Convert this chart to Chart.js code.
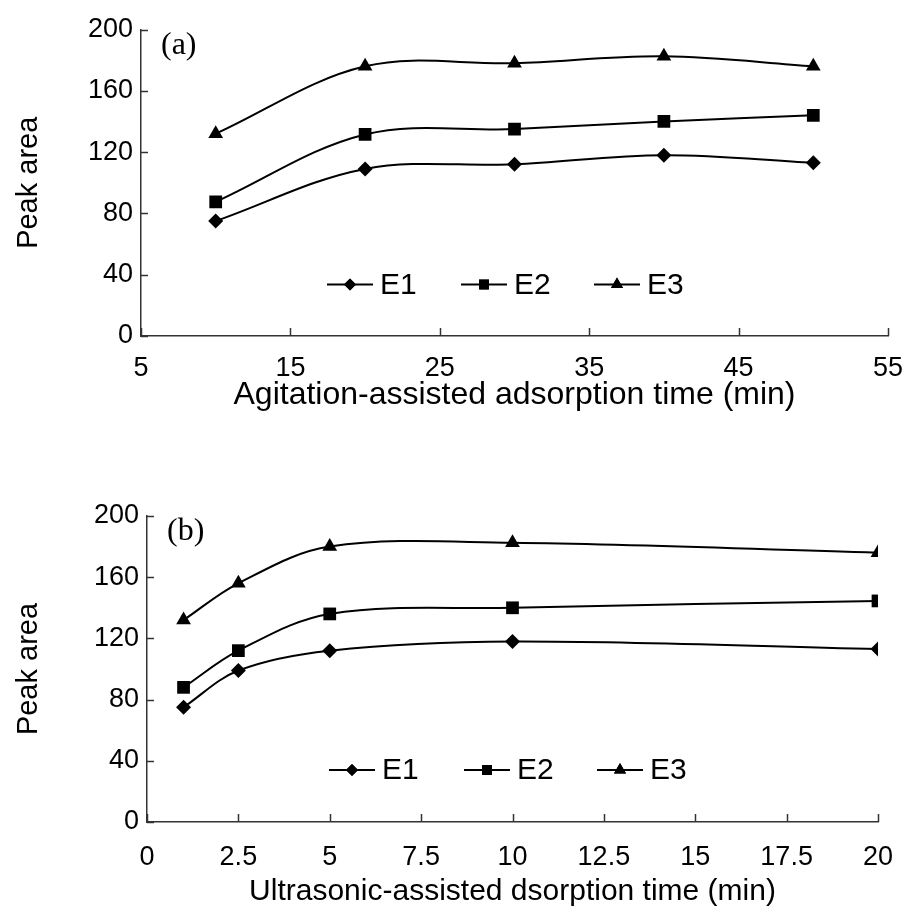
<!DOCTYPE html>
<html>
<head>
<meta charset="utf-8">
<script src="https://cdn.jsdelivr.net/npm/chart.js@4.4.1/dist/chart.umd.min.js"></script>
<style>
  html, body { margin: 0; padding: 0; background: #fff; }
  #wrapA { position: absolute; left: 0; top: 0; width: 907px; height: 454px; }
  #wrapB { position: absolute; left: 0; top: 454px; width: 907px; height: 460px; }
</style>
</head>
<body>
<div id="wrapA"><canvas id="chartA"></canvas></div>
<div id="wrapB"><canvas id="chartB"></canvas></div>
<script>
// ---------- data ----------
const seriesNames = ['E1', 'E2', 'E3'];
const markerStyles = ['rectRot', 'rect', 'triangle'];

const agitationTime = [10, 20, 30, 40, 50];
const agitationE1 = [75, 109, 112, 118, 113];
const agitationE2 = [87.5, 131.5, 135, 140, 144];
const agitationE3 = [132, 176, 178, 182.5, 176];

const ultrasonicTime = [1, 2.5, 5, 10, 20];
const ultrasonicE1 = [75, 99, 112, 118, 113];
const ultrasonicE2 = [88, 112, 136, 140, 144.5];
const ultrasonicE3 = [132, 156, 180, 182.5, 176];

const yTicks = [0, 40, 80, 120, 160, 200];
const agitationTicks = [5, 15, 25, 35, 45, 55];
const ultrasonicTicks = [0, 2.5, 5, 7.5, 10, 12.5, 15, 17.5, 20];

// ---------- helpers ----------
const SANS = "'Liberation Sans', Arial, sans-serif";
const SERIF = "'Liberation Serif', 'Times New Roman', serif";
const markerRadius = [7.5, 9, 8.5];
const legendRadius = [6, 7, 7];

function toPoints(xs, ys) { return xs.map((x, i) => ({ x: x, y: ys[i] })); }

function makeDatasets(xs, seriesList) {
  return seriesList.map((ys, i) => ({
    label: seriesNames[i],
    data: toPoints(xs, ys),
    borderColor: '#000',
    backgroundColor: '#000',
    borderWidth: 2,
    pointStyle: markerStyles[i],
    pointRadius: markerRadius[i],
    pointHoverRadius: markerRadius[i],
    pointBackgroundColor: '#000',
    pointBorderColor: '#000',
    pointBorderWidth: 0,
    tension: 0.35,
    fill: false
  }));
}

// inward tick marks + panel letter + in-plot legend
const decorPlugin = {
  id: 'decor',
  afterDraw(chart, args, opts) {
    const ctx = chart.ctx;
    const area = chart.chartArea;
    ctx.save();
    ctx.strokeStyle = '#333';
    ctx.lineWidth = 1.5;
    const xs = chart.scales.x, ys = chart.scales.y;
    xs.ticks.forEach((t, i) => {
      const px = Math.round(xs.getPixelForTick(i)) + 0.5;
      ctx.beginPath(); ctx.moveTo(px, area.bottom); ctx.lineTo(px, area.bottom - 8); ctx.stroke();
    });
    ys.ticks.forEach((t, i) => {
      const py = Math.round(ys.getPixelForTick(i)) + 0.5;
      ctx.beginPath(); ctx.moveTo(area.left, py); ctx.lineTo(area.left + 7, py); ctx.stroke();
    });
    // panel letter
    ctx.fillStyle = '#000';
    ctx.font = '32px ' + SERIF;
    ctx.textBaseline = 'middle';
    ctx.textAlign = 'left';
    ctx.fillText(opts.letter, area.left + 20, area.top + 16);
    // legend
    const ly = area.top + opts.legendDY;
    chart.data.datasets.forEach((ds, i) => {
      const cx = area.left + opts.legendDX[i];
      ctx.strokeStyle = '#000';
      ctx.lineWidth = 2;
      ctx.beginPath(); ctx.moveTo(cx - 23, ly); ctx.lineTo(cx + 23, ly); ctx.stroke();
      ctx.fillStyle = '#000';
      Chart.helpers.drawPoint(ctx, { pointStyle: ds.pointStyle, radius: legendRadius[i], rotation: 0, borderWidth: 0 }, cx, ly);
      ctx.fill();
      ctx.font = '30px ' + SANS;
      ctx.textBaseline = 'middle';
      ctx.textAlign = 'left';
      ctx.fillText(ds.label, cx + 30, ly + 1);
    });
    ctx.restore();
  }
};

function makeChart(id, xs, seriesList, cfg) {
  return new Chart(document.getElementById(id), {
    type: 'line',
    data: { datasets: makeDatasets(xs, seriesList) },
    plugins: [decorPlugin],
    options: {
      responsive: true,
      maintainAspectRatio: false,
      animation: false,
      events: [],
      layout: { padding: cfg.padding },
      plugins: {
        legend: { display: false },
        tooltip: { enabled: false },
        decor: { letter: cfg.letter, legendDX: cfg.legendDX, legendDY: cfg.legendDY }
      },
      scales: {
        x: {
          type: 'linear',
          min: cfg.xTicks[0],
          max: cfg.xTicks[cfg.xTicks.length - 1],
          afterBuildTicks: (s) => { s.ticks = cfg.xTicks.map(v => ({ value: v })); },
          afterFit: (s) => { s.height = cfg.xHeight; },
          grid: { display: true, drawOnChartArea: false, drawTicks: true, tickLength: cfg.xTickLen, tickColor: 'rgba(0,0,0,0)' },
          border: { display: true, color: '#333', width: 1.5 },
          ticks: {
            autoSkip: false, maxRotation: 0, padding: 2, color: '#000',
            font: { family: SANS, size: 27 },
            callback: (v) => String(v)
          },
          title: {
            display: true, text: cfg.xTitle, color: '#000',
            font: { family: SANS, size: cfg.xTitleSize },
            padding: { top: 0, bottom: cfg.xTitlePad }
          }
        },
        y: {
          type: 'linear',
          min: 0, max: 200,
          afterBuildTicks: (s) => { s.ticks = yTicks.map(v => ({ value: v })); },
          afterFit: (s) => { s.width = cfg.yWidth; },
          grid: { display: true, drawOnChartArea: false, drawTicks: false },
          border: { display: true, color: '#333', width: 1.5 },
          ticks: { padding: 8, color: '#000', font: { family: SANS, size: 27 } },
          title: {
            display: true, text: 'Peak area', color: '#000',
            font: { family: SANS, size: 29 },
            padding: { top: 12, bottom: 0 }
          }
        }
      }
    }
  });
}

makeChart('chartA', agitationTime, [agitationE1, agitationE2, agitationE3], {
  letter: '(a)',
  xTicks: agitationTicks,
  xTitle: 'Agitation-assisted adsorption time (min)',
  xTitleSize: 32,
  xTitlePad: 40,
  xTickLen: 14,
  xHeight: 118,
  yWidth: 141,
  padding: { left: 0, right: 19, top: 29.5, bottom: 0 },
  legendDX: [209, 343, 476],
  legendDY: 255
});

makeChart('chartB', ultrasonicTime, [ultrasonicE1, ultrasonicE2, ultrasonicE3], {
  letter: '(b)',
  xTicks: ultrasonicTicks,
  xTitle: 'Ultrasonic-assisted dsorption time (min)',
  xTitleSize: 30,
  xTitlePad: 4,
  xTickLen: 17,
  xHeight: 92,
  yWidth: 147,
  padding: { left: 0, right: 29, top: 62, bottom: 0 },
  legendDX: [205, 340, 473],
  legendDY: 254
});
</script>
</body>
</html>
